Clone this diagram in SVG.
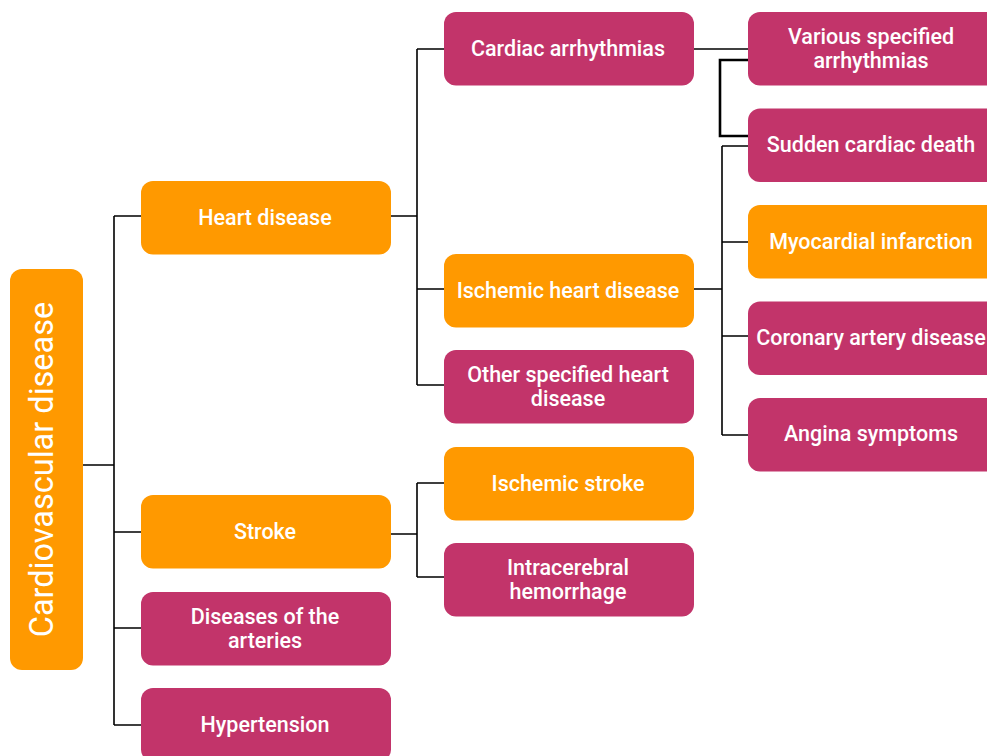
<svg xmlns="http://www.w3.org/2000/svg" width="987" height="756" viewBox="0 0 987 756">
<style>
.o{fill:#FF9900}
.m{fill:#C2346A}
.t{font-family:Roboto,"Noto Sans",sans-serif;font-weight:500;font-size:21.5px;fill:#fff;text-anchor:middle;dominant-baseline:central}
.r{font-family:Roboto,"Noto Sans",sans-serif;font-weight:400;font-size:32.5px;fill:#fff;text-anchor:middle;dominant-baseline:central}
.c{fill:none;stroke:#000;stroke-width:1.6}
.k{fill:none;stroke:#000;stroke-width:2.6}
</style>
<rect width="987" height="756" fill="#fff"/>
<g id="connectors">
<path class="c" d="M83 465H114M114 216V725M114 216H141M114 532H141M114 628H141M114 725H141"/>
<path class="c" d="M391 216H417M417 49V385M417 49H444M417 289H444M417 385H444"/>
<path class="c" d="M391 534H417M417 483V577M417 483H444M417 577H444"/>
<path class="c" d="M694 49H748"/>
<path class="k" d="M748 60H720V136H748"/>
<path class="c" d="M694 289H722M722 146V435M722 146H748M722 242H748M722 336H748M722 435H748"/>
</g>
<g id="root"><rect class="o" x="10" y="269" width="73" height="401" rx="12"/><text class="r" transform="translate(42 469.5) rotate(-90)">Cardiovascular disease</text></g>
<g id="heart"><rect class="o" x="141" y="181" width="250" height="73.5" rx="12"/><text class="t" x="265" y="217">Heart disease</text></g>
<g id="stroke"><rect class="o" x="141" y="495" width="250" height="73.5" rx="12"/><text class="t" x="265" y="531">Stroke</text></g>
<g id="arteries"><rect class="m" x="141" y="592" width="250" height="73.5" rx="12"/><text class="t" x="265" y="616">Diseases of the</text><text class="t" x="265" y="640">arteries</text></g>
<g id="hypertension"><rect class="m" x="141" y="688" width="250" height="73.5" rx="12"/><text class="t" x="265" y="724">Hypertension</text></g>
<g id="arrhythmias"><rect class="m" x="444" y="12" width="250" height="73.5" rx="12"/><text class="t" x="568" y="48">Cardiac arrhythmias</text></g>
<g id="ihd"><rect class="o" x="444" y="254" width="250" height="73.5" rx="12"/><text class="t" x="568" y="290">Ischemic heart disease</text></g>
<g id="other"><rect class="m" x="444" y="350" width="250" height="73.5" rx="12"/><text class="t" x="568" y="374">Other specified heart</text><text class="t" x="568" y="398">disease</text></g>
<g id="istroke"><rect class="o" x="444" y="447" width="250" height="73.5" rx="12"/><text class="t" x="568" y="483">Ischemic stroke</text></g>
<g id="ich"><rect class="m" x="444" y="543" width="250" height="73.5" rx="12"/><text class="t" x="568" y="567">Intracerebral</text><text class="t" x="568" y="591">hemorrhage</text></g>
<g id="various"><rect class="m" x="748" y="12" width="250" height="73.5" rx="12"/><text class="t" x="871" y="36">Various specified</text><text class="t" x="871" y="60">arrhythmias</text></g>
<g id="sudden"><rect class="m" x="748" y="108.5" width="250" height="73.5" rx="12"/><text class="t" x="871" y="144">Sudden cardiac death</text></g>
<g id="mi"><rect class="o" x="748" y="205" width="250" height="73.5" rx="12"/><text class="t" x="871" y="241">Myocardial infarction</text></g>
<g id="cad"><rect class="m" x="748" y="301.5" width="250" height="73.5" rx="12"/><text class="t" x="871" y="337">Coronary artery disease</text></g>
<g id="angina"><rect class="m" x="748" y="398" width="250" height="73.5" rx="12"/><text class="t" x="871" y="433">Angina symptoms</text></g>
</svg>
